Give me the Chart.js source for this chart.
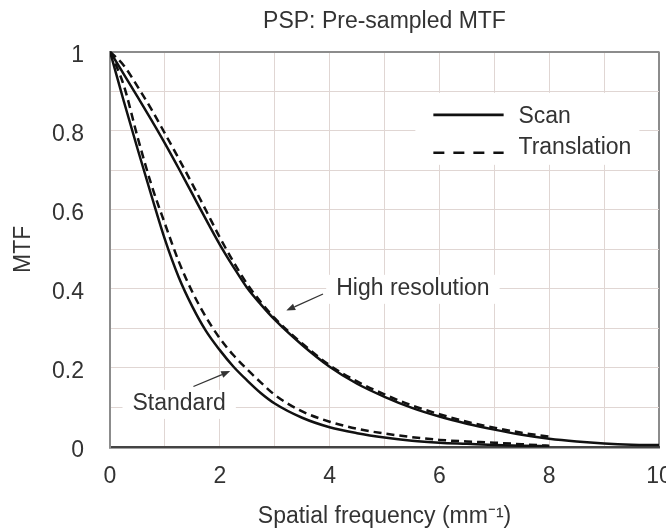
<!DOCTYPE html>
<html><head><meta charset="utf-8">
<script src="https://cdn.jsdelivr.net/npm/chart.js@4"></script>
<style>html,body{margin:0;padding:0;background:#fff;}#wrap{width:666px;height:532px;}</style>
</head><body><div id="wrap"><canvas id="c" width="666" height="532"></canvas></div>
<script>
// ---- data ----
const freq = [0, 0.25, 0.5, 0.75, 1, 1.25, 1.5, 1.75, 2, 2.25, 2.5, 2.75, 3, 3.5, 4, 4.5, 5, 5.5, 6, 6.5, 7, 7.5, 8, 8.5, 9, 9.5, 10];
const highResScan        = [1.0, 0.943, 0.886, 0.828, 0.768, 0.705, 0.640, 0.575, 0.512, 0.455, 0.402, 0.360, 0.322, 0.258, 0.203, 0.160, 0.127, 0.099, 0.077, 0.059, 0.044, 0.031, 0.021, 0.014, 0.009, 0.006, 0.005];
const highResTranslation = [1.0, 0.965, 0.912, 0.855, 0.793, 0.730, 0.665, 0.598, 0.530, 0.468, 0.412, 0.366, 0.326, 0.262, 0.207, 0.166, 0.133, 0.105, 0.083, 0.064, 0.049, 0.036, 0.026];
const standardScan        = [1.0, 0.875, 0.755, 0.638, 0.525, 0.430, 0.355, 0.293, 0.245, 0.203, 0.168, 0.136, 0.110, 0.074, 0.050, 0.035, 0.024, 0.016, 0.011, 0.008, 0.005, 0.003, 0.002];
const standardTranslation = [1.0, 0.915, 0.785, 0.665, 0.565, 0.470, 0.392, 0.328, 0.275, 0.232, 0.196, 0.163, 0.132, 0.090, 0.064, 0.046, 0.034, 0.025, 0.018, 0.014, 0.011, 0.007, 0.003];
const xTickLabels = ['0', '2', '4', '6', '8', '10'];
const yTickLabels = ['0', '0.2', '0.4', '0.6', '0.8', '1'];
const legendLabels = ['Scan', 'Translation'];
const curveNames = ['High resolution', 'Standard'];
const chartTitle = 'PSP: Pre-sampled MTF';
const xTitle = 'Spatial frequency (mm\u207B\u00B9)';
const yTitle = 'MTF';

// ---- helpers ----
const FONT = "'Liberation Sans', Arial, sans-serif";
const INK = '#111';
const TXT = '#333';
function pts(xs, ys) { return ys.map((y, i) => ({x: xs[i], y: y})); }
function lineDs(label, xs, ys, dashed) {
  return {
    label: label, data: pts(xs, ys), showLine: true, borderColor: INK, backgroundColor: INK,
    borderWidth: 2.5, borderDash: dashed ? [8, 5] : [], pointRadius: 0, pointHoverRadius: 0,
    cubicInterpolationMode: 'monotone', fill: false
  };
}

// annotation placement (data coordinates)
const notes = {
  high: {x: 4.12, y: 0.40, arrow: [[3.88, 0.387], [3.21, 0.345]]},
  std:  {x: 0.41, y: 0.109, arrow: [[1.52, 0.153], [2.19, 0.192]]},
  legend: {x0: 5.89, x1: 7.17, tx: 7.44, rows: [0.84, 0.744], textRows: [0.835, 0.758]}
};

function arrow(ctx, x1, y1, x2, y2) {
  ctx.save();
  ctx.strokeStyle = '#333'; ctx.fillStyle = '#333'; ctx.lineWidth = 1.3;
  const a = Math.atan2(y2 - y1, x2 - x1), L = 9, W = 3.5;
  const bx = x2 - L * Math.cos(a), by = y2 - L * Math.sin(a);
  ctx.beginPath(); ctx.moveTo(x1, y1); ctx.lineTo(bx, by); ctx.stroke();
  ctx.beginPath(); ctx.moveTo(x2, y2);
  ctx.lineTo(bx + W * Math.sin(a), by - W * Math.cos(a));
  ctx.lineTo(bx - W * Math.sin(a), by + W * Math.cos(a));
  ctx.closePath(); ctx.fill();
  ctx.restore();
}

const annot = {
  id: 'annot',
  beforeDatasetsDraw(chart) {
    const {ctx, scales: {x, y}} = chart;
    ctx.save();
    ctx.fillStyle = '#fff';
    ctx.font = '23px ' + FONT;
    [[curveNames[0], notes.high], [curveNames[1], notes.std]].forEach(([t, n]) => {
      const px = x.getPixelForValue(n.x), py = y.getPixelForValue(n.y);
      const w = ctx.measureText(t).width;
      ctx.fillRect(px - 10, py - 14, w + 20, 29);
    });
    const L = notes.legend;
    const lx = x.getPixelForValue(L.x0) - 18;
    const rx = x.getPixelForValue(L.tx) + ctx.measureText(legendLabels[1]).width + 8;
    const ty = y.getPixelForValue(L.rows[0]) - 22, by = y.getPixelForValue(L.rows[1]) + 12;
    ctx.fillRect(lx, ty, rx - lx, by - ty);
    ctx.restore();
  },
  afterDatasetsDraw(chart) {
    const {ctx, scales: {x, y}} = chart;
    ctx.save();
    ctx.font = '23px ' + FONT;
    ctx.fillStyle = TXT;
    ctx.textAlign = 'left'; ctx.textBaseline = 'middle';
    [[curveNames[0], notes.high], [curveNames[1], notes.std]].forEach(([t, n]) => {
      ctx.fillText(t, x.getPixelForValue(n.x), y.getPixelForValue(n.y));
      const [[a, b], [c, d]] = n.arrow;
      arrow(ctx, x.getPixelForValue(a), y.getPixelForValue(b), x.getPixelForValue(c), y.getPixelForValue(d));
    });
    const L = notes.legend;
    const x0 = x.getPixelForValue(L.x0), x1 = x.getPixelForValue(L.x1);
    legendLabels.forEach((lab, i) => {
      const yy = y.getPixelForValue(L.rows[i]);
      ctx.strokeStyle = INK; ctx.lineWidth = 2.6;
      ctx.setLineDash(i === 0 ? [] : [11, 9]);
      ctx.beginPath(); ctx.moveTo(x0, yy); ctx.lineTo(x1, yy); ctx.stroke();
      ctx.setLineDash([]);
      ctx.fillText(lab, x.getPixelForValue(L.tx), y.getPixelForValue(L.textRows[i]));
    });
    ctx.restore();
  }
};

Chart.defaults.font.family = FONT;
Chart.defaults.color = TXT;

const GRID = '#e0d6d3', FRAME = '#8c8c8c';

new Chart(document.getElementById('c'), {
  type: 'scatter',
  data: {
    datasets: [
      lineDs(legendLabels[0], freq, highResScan, false),
      lineDs(legendLabels[1], freq, highResTranslation, true),
      lineDs(legendLabels[0], freq, standardScan, false),
      lineDs(legendLabels[1], freq, standardTranslation, true)
    ]
  },
  options: {
    responsive: false, animation: false, devicePixelRatio: 1,
    layout: {padding: {left: 0, right: 7, top: 0, bottom: 0}},
    plugins: {
      legend: {display: false},
      tooltip: {enabled: false},
      title: {
        display: true, text: chartTitle, fullSize: false, color: TXT,
        font: {size: 23, weight: 'normal'}, padding: {top: 8, bottom: 16}
      }
    },
    scales: {
      x: {
        type: 'linear', min: 0, max: 10,
        ticks: {
          stepSize: 1, autoSkip: false, maxRotation: 0, padding: 16, color: TXT,
          font: {size: 23},
          callback: v => { const s = String(Math.round(v * 10) / 10); return xTickLabels.includes(s) ? s : ''; }
        },
        grid: {
          drawTicks: false,
          color: c => (c.tick && c.tick.value === 10) ? FRAME : GRID,
          lineWidth: c => (c.tick && c.tick.value === 10) ? 2 : 1
        },
        border: {color: '#444', width: 2.5},
        title: {display: true, text: xTitle, color: TXT, font: {size: 23}, padding: {top: 0, bottom: 2}},
        afterFit(s) { s.height = 85; s.paddingLeft = 0; s.paddingRight = 0; }
      },
      y: {
        type: 'linear', min: 0, max: 1,
        ticks: {
          stepSize: 0.1, autoSkip: false, padding: 26, labelOffset: 4, color: TXT,
          font: {size: 23},
          callback: v => { const s = String(Math.round(v * 10) / 10); return yTickLabels.includes(s) ? s : ''; }
        },
        grid: {
          drawTicks: false,
          color: c => (c.tick && Math.abs(c.tick.value - 1) < 1e-9) ? FRAME : GRID,
          lineWidth: c => (c.tick && Math.abs(c.tick.value - 1) < 1e-9) ? 2 : 1
        },
        border: {color: FRAME, width: 2},
        title: {display: true, text: yTitle, color: TXT, font: {size: 23}, padding: {top: 10, bottom: 0}},
        afterFit(s) { s.width = 110; s.paddingTop = 0; s.paddingBottom = 0; }
      }
    }
  },
  plugins: [annot]
});
</script>
</body></html>
